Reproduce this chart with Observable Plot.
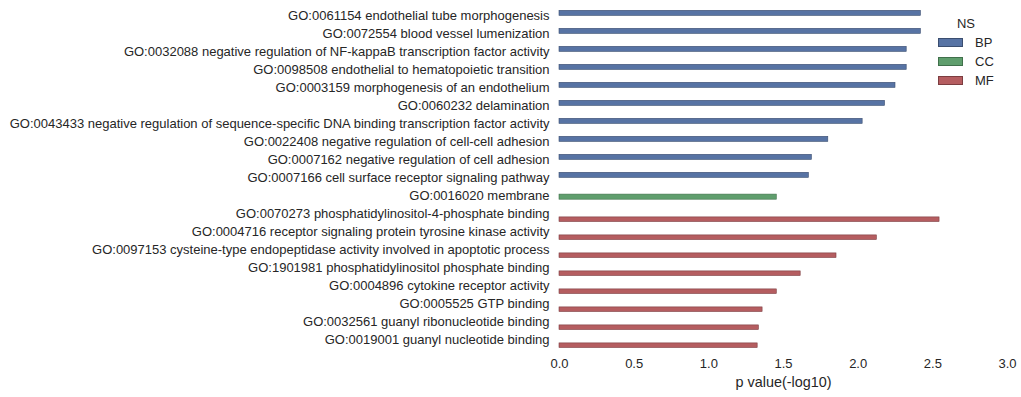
<!DOCTYPE html>
<html>
<head>
<meta charset="utf-8">
<script src="https://cdn.jsdelivr.net/npm/d3@7"></script>
<script src="https://cdn.jsdelivr.net/npm/@observablehq/plot@0.6"></script>
<style>
  html, body { margin: 0; padding: 0; background: #fff; }
  #wrap { position: relative; width: 1021px; height: 397px; font-family: "Liberation Sans", Arial, sans-serif; color: #262626; }
  #legend { position: absolute; left: 936px; top: 14px; font-size: 13px; color: #262626; }
  #legend .title { text-align: center; width: 60px; height: 19px; line-height: 19px; }
  #legend .row { display: flex; align-items: center; height: 19px; }
  #legend .sw { width: 25px; height: 9px; box-sizing: border-box; margin-right: 12px; margin-left: 2px; }
  g[aria-label="x-axis label"] text { font-size: 14.4px; }
</style>
</head>
<body>
<div id="wrap"></div>
<script>
const terms = [
  "GO:0061154 endothelial tube morphogenesis",
  "GO:0072554 blood vessel lumenization",
  "GO:0032088 negative regulation of NF-kappaB transcription factor activity",
  "GO:0098508 endothelial to hematopoietic transition",
  "GO:0003159 morphogenesis of an endothelium",
  "GO:0060232 delamination",
  "GO:0043433 negative regulation of sequence-specific DNA binding transcription factor activity",
  "GO:0022408 negative regulation of cell-cell adhesion",
  "GO:0007162 negative regulation of cell adhesion",
  "GO:0007166 cell surface receptor signaling pathway",
  "GO:0016020 membrane",
  "GO:0070273 phosphatidylinositol-4-phosphate binding",
  "GO:0004716 receptor signaling protein tyrosine kinase activity",
  "GO:0097153 cysteine-type endopeptidase activity involved in apoptotic process",
  "GO:1901981 phosphatidylinositol phosphate binding",
  "GO:0004896 cytokine receptor activity",
  "GO:0005525 GTP binding",
  "GO:0032561 guanyl ribonucleotide binding",
  "GO:0019001 guanyl nucleotide binding"
];
const pvalues = [2.42, 2.42, 2.325, 2.325, 2.25, 2.18, 2.03, 1.80, 1.69, 1.67, 1.455, 2.545, 2.125, 1.855, 1.615, 1.455, 1.36, 1.335, 1.327];
const groups = ["BP","BP","BP","BP","BP","BP","BP","BP","BP","BP","CC","MF","MF","MF","MF","MF","MF","MF","MF"];
const groupNames = ["BP", "CC", "MF"];
const groupColors = ["#5773A4", "#5F9E6D", "#B55D60"];
const groupEdges = ["#3b4e70", "#40704b", "#7c3d40"];
const xTicks = [0, 0.5, 1.0, 1.5, 2.0, 2.5, 3.0];

const data = terms.map((t, i) => ({term: t, value: pvalues[i], group: groups[i]}));

// per-group dodge (seaborn hue offset within each category slot)
const insets = {
  BP: {insetTop: 4.3, insetBottom: 8.6},
  CC: {insetTop: 8.1, insetBottom: 4.8},
  MF: {insetTop: 12.9, insetBottom: 0.5}
};

const marks = groupNames.map((g, k) => Plot.barX(data.filter(d => d.group === g), {
  x: "value", y: "term",
  fill: groupColors[k], stroke: groupEdges[k], strokeWidth: 0.6,
  ...insets[g]
}));

const chart = Plot.plot({
  width: 1021,
  height: 397,
  marginLeft: 559,
  marginRight: 14,
  marginTop: 5,
  marginBottom: 48,
  style: {fontSize: "13px", fontFamily: "'Liberation Sans', Arial, sans-serif", color: "#262626", background: "#fff"},
  x: {domain: [0, 3], ticks: xTicks, tickFormat: d3.format(".1f")},
  y: {domain: terms, padding: 0},
  marks: [
    ...marks,
    Plot.axisY({tickSize: 0, tickPadding: 10, label: null}),
    Plot.axisX({ticks: xTicks, tickFormat: d3.format(".1f"), tickSize: 0, tickPadding: 9, label: "p value(-log10)", labelAnchor: "center", labelOffset: 37, labelArrow: "none", fontSize: 13})
  ]
});
document.getElementById("wrap").appendChild(chart);

// legend
const leg = document.createElement("div");
leg.id = "legend";
leg.innerHTML = `<div class="title">NS</div>` + groupNames.map((g, k) =>
  `<div class="row"><div class="sw" style="background:${groupColors[k]};border:1px solid ${groupEdges[k]}"></div><span>${g}</span></div>`).join("");
document.getElementById("wrap").appendChild(leg);
</script>
</body>
</html>
